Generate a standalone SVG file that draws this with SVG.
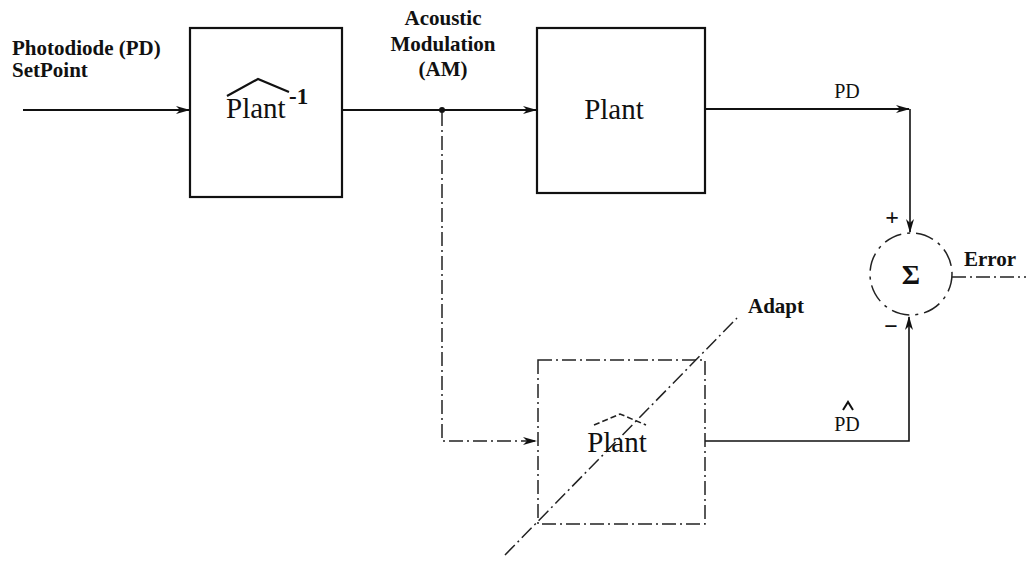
<svg xmlns="http://www.w3.org/2000/svg" width="1026" height="565" viewBox="0 0 1026 565">
<style>
text{font-family:"Liberation Serif","DejaVu Serif",serif;fill:#111}
.lbl{font-size:21px;font-weight:bold}
.big{font-size:29px}
.solid{fill:none;stroke:#111;stroke-width:2.2}
.thin{fill:none;stroke:#111;stroke-width:1.6}
.dash{fill:none;stroke:#222;stroke-width:1.5;stroke-dasharray:14 4 2 4}
</style>
<defs>
<marker id="ah" markerWidth="14" markerHeight="10" refX="13" refY="5" orient="auto" markerUnits="userSpaceOnUse">
<path d="M0,1 L14,5 L0,9 L4,5 Z" fill="#111"/>
</marker>
</defs>
<rect width="1026" height="565" fill="#fff"/>
<g id="connectors">
<path class="solid" d="M23,110 H189" marker-end="url(#ah)"/>
<path class="solid" d="M342,110 H536" marker-end="url(#ah)"/>
<circle cx="442" cy="110" r="3" fill="#111"/>
<path class="solid" d="M705,109 H909" marker-end="url(#ah)"/>
<path class="thin" d="M910,109 V232" marker-end="url(#ah)"/>
<path class="dash" d="M442,112 V441 H536" marker-end="url(#ah)"/>
<path class="thin" d="M705,441 H909 V317" marker-end="url(#ah)"/>
<path class="dash" d="M952,277 H1026"/>
<path class="dash" d="M505,555 L737,318"/>
</g>
<g id="input-label">
<text class="lbl" x="12" y="55">Photodiode (PD)</text>
<text class="lbl" x="12" y="77">SetPoint</text>
</g>
<g id="am-label">
<text class="lbl" x="443" y="25" text-anchor="middle">Acoustic</text>
<text class="lbl" x="443" y="51" text-anchor="middle">Modulation</text>
<text class="lbl" x="443" y="76" text-anchor="middle">(AM)</text>
</g>
<g id="plant-inverse">
<rect class="solid" x="190" y="28" width="152" height="169"/>
<text class="big" x="226" y="118">Plant</text>
<path d="M227,96 L258,79 L289,92" fill="none" stroke="#111" stroke-width="2.2"/>
<text x="289" y="104" font-size="23" font-weight="bold">-1</text>
</g>
<g id="plant">
<rect class="solid" x="537" y="28" width="168" height="165"/>
<text class="big" x="614" y="119" text-anchor="middle">Plant</text>
</g>
<g id="pd-label">
<text x="847" y="98" font-size="20" text-anchor="middle">PD</text>
</g>
<g id="sum">
<circle cx="911" cy="274" r="41" fill="none" stroke="#222" stroke-width="1.5" stroke-dasharray="18 6 3 6"/>
<text x="911" y="284" font-size="28" font-weight="bold" text-anchor="middle">Σ</text>
<text x="892" y="225" font-size="24" font-weight="bold" text-anchor="middle">+</text>
<text x="891" y="334" font-size="24" font-weight="bold" text-anchor="middle">−</text>
</g>
<g id="error-label">
<text class="lbl" x="964" y="266">Error</text>
</g>
<g id="adapt-label">
<text class="lbl" x="748" y="313">Adapt</text>
</g>
<g id="plant-model">
<rect class="dash" x="538" y="360" width="167" height="164"/>
<text class="big" x="617" y="452" text-anchor="middle">Plant</text>
<path d="M594,425 L620,414 L646,425" fill="none" stroke="#222" stroke-width="1.6" stroke-dasharray="6 3"/>
</g>
<g id="pdhat-label">
<text x="847" y="431" font-size="20" text-anchor="middle">PD</text>
<path d="M843,410 L848,402 L853,410" fill="none" stroke="#111" stroke-width="2"/>
</g>
</svg>
